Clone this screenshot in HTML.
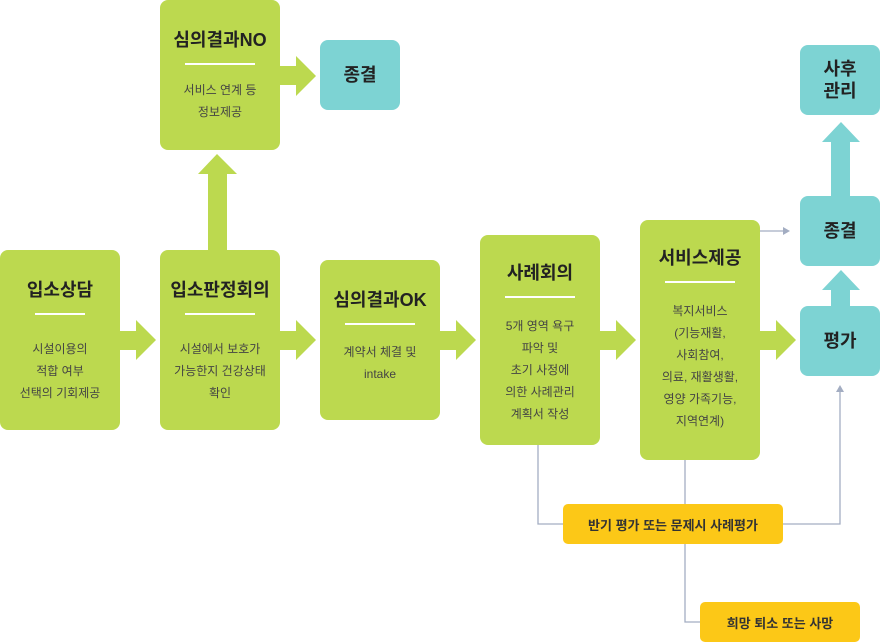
<!DOCTYPE html>
<html><head><meta charset="utf-8"><style>
body{margin:0;width:880px;height:642px;background:#fff;position:relative;overflow:hidden;font-family:"Liberation Sans","Noto Sans CJK KR",sans-serif}
.b{position:absolute;background:#bcd94f;border-radius:8px;text-align:center;color:#333}
.t{position:absolute;background:#7dd3d3;border-radius:8px;text-align:center;color:#222;font-weight:bold;font-size:18px;display:flex;align-items:center;justify-content:center;line-height:22px}
.h{font-size:18px;font-weight:bold;color:#222;line-height:22px}
.d{width:70px;height:2px;background:#fff;margin:0 auto}
.s{font-size:12px;line-height:22px;color:#444}
.y{position:absolute;background:#fcc817;border-radius:5px;font-size:13px;font-weight:bold;color:#333;display:flex;align-items:center;justify-content:center}
svg{position:absolute;left:0;top:0}
</style></head><body>
<svg width="880" height="642">
<g fill="#bcd94f">
<polygon points="120,331 136,331 136,320 156,340 136,360 136,350 120,350"/>
<polygon points="280,331 296,331 296,320 316,340 296,360 296,350 280,350"/>
<polygon points="440,331 456,331 456,320 476,340 456,360 456,350 440,350"/>
<polygon points="600,331 616,331 616,320 636,340 616,360 616,350 600,350"/>
<polygon points="760,331 776,331 776,320 796,340 776,360 776,350 760,350"/>
<polygon points="280,66 296,66 296,56 316,76 296,96 296,85 280,85"/>
<polygon points="208,250 208,174 198,174 217,154 237,174 227,174 227,250"/>
</g>
<g fill="#7dd3d3">
<polygon points="831,306 831,290 822,290 841,270 860,290 850,290 850,306"/>
<polygon points="831,196 831,142 822,142 841,122 860,142 850,142 850,196"/>
</g>
<g stroke="#a3adc2" stroke-width="1.3" fill="none">
<polyline points="760,231 784,231"/>
<polyline points="538,445 538,524 563,524"/>
<polyline points="685,460 685,504"/>
<polyline points="685,544 685,622 700,622"/>
<polyline points="783,524 840,524 840,390"/>
</g>
<g fill="#a3adc2">
<polygon points="783,227 790,231 783,235"/>
<polygon points="836,392 840,385 844,392"/>
</g>
</svg>
<div class="b" style="left:0;top:250px;width:120px;height:180px"><div class="h" style="margin-top:29px">입소상담</div><div class="d" style="margin-top:12px;width:50px"></div><div class="s" style="margin-top:23px">시설이용의<br>적합 여부<br>선택의 기회제공</div></div>
<div class="b" style="left:160px;top:250px;width:120px;height:180px"><div class="h" style="margin-top:29px">입소판정회의</div><div class="d" style="margin-top:12px"></div><div class="s" style="margin-top:23px">시설에서 보호가<br>가능한지 건강상태<br>확인</div></div>
<div class="b" style="left:160px;top:0;width:120px;height:150px"><div class="h" style="margin-top:29px">심의결과NO</div><div class="d" style="margin-top:12px"></div><div class="s" style="margin-top:14px">서비스 연계 등<br>정보제공</div></div>
<div class="t" style="left:320px;top:40px;width:80px;height:70px">종결</div>
<div class="b" style="left:320px;top:260px;width:120px;height:160px"><div class="h" style="margin-top:29px">심의결과OK</div><div class="d" style="margin-top:12px"></div><div class="s" style="margin-top:16px">계약서 체결 및<br>intake</div></div>
<div class="b" style="left:480px;top:235px;width:120px;height:210px"><div class="h" style="margin-top:27px">사례회의</div><div class="d" style="margin-top:12px"></div><div class="s" style="margin-top:17px">5개 영역 욕구<br>파악 및<br>초기 사정에<br>의한 사례관리<br>계획서 작성</div></div>
<div class="b" style="left:640px;top:220px;width:120px;height:240px"><div class="h" style="margin-top:27px">서비스제공</div><div class="d" style="margin-top:12px"></div><div class="s" style="margin-top:17px">복지서비스<br>(기능재활,<br>사회참여,<br>의료, 재활생활,<br>영양 가족기능,<br>지역연계)</div></div>
<div class="t" style="left:800px;top:45px;width:80px;height:70px">사후<br>관리</div>
<div class="t" style="left:800px;top:196px;width:80px;height:70px">종결</div>
<div class="t" style="left:800px;top:306px;width:80px;height:70px">평가</div>
<div class="y" style="left:563px;top:504px;width:220px;height:40px">반기 평가 또는 문제시 사례평가</div>
<div class="y" style="left:700px;top:602px;width:160px;height:40px">희망 퇴소 또는 사망</div>
</body></html>
